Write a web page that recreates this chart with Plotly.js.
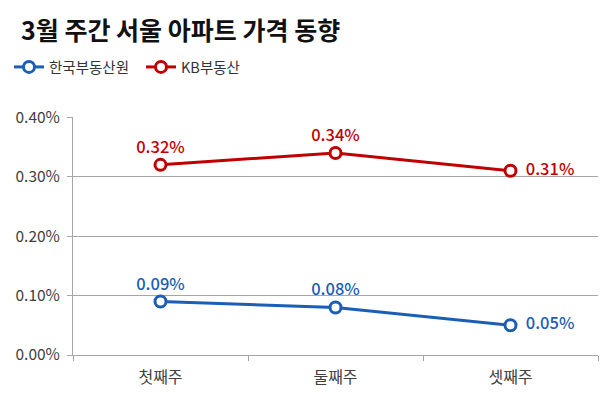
<!DOCTYPE html>
<html>
<head>
<meta charset="utf-8">
<script src="https://cdn.plot.ly/plotly-3.0.1.min.js"></script>
<style>html,body{margin:0;padding:0;background:#fff;}#chart{width:600px;height:396px;}</style>
</head>
<body>
<div id="chart"></div>
<script>
const weeks = ['첫째주', '둘째주', '셋째주'];
const rebValues = [0.09, 0.08, 0.05];
const kbValues = [0.32, 0.34, 0.31];
const seriesNames = ['한국부동산원', 'KB부동산'];
const yTicks = [0, 0.1, 0.2, 0.3, 0.4];

const FONT = '"Noto Sans CJK KR", "Noto Sans", sans-serif';
const BLUE = '#1a5eb5';
const RED = '#c00000';
const labelPos = ['top center', 'top center', 'middle right'];

function trace(name, vals, color) {
  return {
    x: weeks, y: vals, name: name, type: 'scatter', mode: 'lines+markers+text',
    line: {color: color, width: 3},
    marker: {symbol: 'circle', size: 11, color: '#ffffff', line: {color: color, width: 3}},
    text: vals.map((v, i) => (labelPos[i] === 'middle right' ? '\u00a0\u00a0' : '') + v.toFixed(2) + '%'),
    textposition: labelPos,
    textfont: {family: FONT, size: 16.5, color: color, weight: 500},
    cliponaxis: false,
    hoverinfo: 'skip'
  };
}

const data = [trace(seriesNames[0], rebValues, BLUE), trace(seriesNames[1], kbValues, RED)];

const layout = {
  width: 600, height: 396,
  margin: {l: 73, r: 2, t: 117, b: 41},
  paper_bgcolor: '#ffffff', plot_bgcolor: '#ffffff',
  font: {family: FONT, color: '#404040'},
  title: {
    text: '<b>3월 주간 서울 아파트 가격 동향</b>',
    font: {family: FONT, size: 25, color: '#111111'},
    xref: 'container', yref: 'container', x: 21/600, xanchor: 'left',
    y: 1 - 31/396, yanchor: 'middle'
  },
  showlegend: true,
  legend: {
    orientation: 'h', x: -64/525, xanchor: 'left', y: 1 + 50/238, yanchor: 'middle',
    font: {family: FONT, size: 14.5, color: '#333333'},
    entrywidth: 87, itemwidth: 30, tracegroupgap: 0
  },
  xaxis: {
    type: 'category', showline: true, linecolor: '#a6a6a6', linewidth: 1,
    ticks: 'outside', tickson: 'boundaries', ticklen: 5, tickcolor: '#a6a6a6',
    showgrid: false, tickfont: {family: FONT, size: 16, color: '#404040'},
    ticklabelstandoff: 8,
    range: [-0.5, 2.5], fixedrange: true
  },
  yaxis: {
    range: [0, 0.4005], tickvals: yTicks, ticktext: yTicks.map(v => v.toFixed(2) + '%'),
    showline: true, linecolor: '#a6a6a6', linewidth: 1,
    ticks: 'outside', ticklen: 5, tickcolor: '#a6a6a6',
    showgrid: true, gridcolor: '#a6a6a6', gridwidth: 1, zeroline: false,
    ticklabelstandoff: 4,
    tickfont: {family: FONT, size: 15.5, color: '#404040'}, fixedrange: true
  }
};

Plotly.newPlot('chart', data, layout, {displayModeBar: false, staticPlot: true});
</script>
</body>
</html>
